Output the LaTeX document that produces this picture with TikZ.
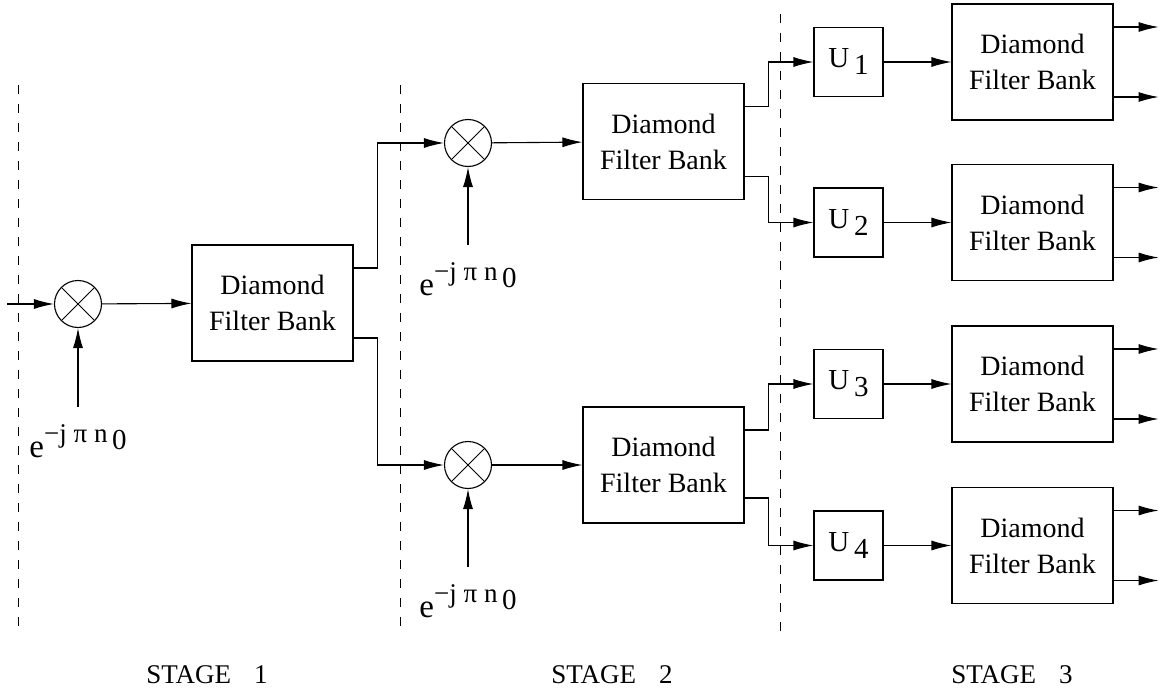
\documentclass[tikz,border=0pt]{standalone}
\usepackage{fontspec}
\setmainfont{Liberation Serif}
\usetikzlibrary{positioning,arrows.meta}

\tikzset{
  fbank/.style={draw, line width=1.1pt, minimum width=161pt, minimum height=116pt,
    inner sep=0pt, align=center, font=\fontsize{28}{36}\selectfont},
  ubox/.style={draw, line width=1.1pt, minimum size=69pt, inner sep=0pt,
    font=\fontsize{29}{32}\selectfont},
  mixer/.style={circle, draw, line width=1.1pt, minimum size=47pt, inner sep=0pt,
    path picture={\draw[line width=0.9pt]
      (path picture bounding box.north west) -- (path picture bounding box.south east)
      (path picture bounding box.north east) -- (path picture bounding box.south west);}},
  expo/.style={inner sep=0pt, font=\fontsize{27}{30}\selectfont},
  arr/.style={-{Latex[length=20pt,width=10pt]}, line width=1.1pt},
  stageline/.style={dash pattern=on 9pt off 10pt, line width=1pt},
  stagelbl/.style={inner sep=0pt, font=\fontsize{27}{30}\selectfont}
}

\begin{document}
\begin{tikzpicture}[x=1pt, y=-1pt]
    \useasboundingbox (0,0) rectangle (1168,693);
    % Stage borders
    \coordinate (d1t) at (18,85);
    \coordinate (d1b) at (18,628);
    \coordinate (d2t) at (400,85);
    \coordinate (d2b) at (400,631);
    \coordinate (d3t) at (780,14);
    \coordinate (d3b) at (780,634);
    \draw[stageline] (d1t) -- (d1b);
    \draw[stageline] (d2t) -- (d2b);
    \draw[stageline] (d3t) -- (d3b);
    % Multipliers
    \node[mixer] (m1) at (78,304) {};
    \node[mixer] (m2) at (468,143) {};
    \node[mixer] (m3) at (468,465) {};
    % Modulation inputs
    \coordinate (s1) at (78,407);
    \coordinate (s2) at (468,245);
    \coordinate (s3) at (468,567);
    \foreach \i in {1,2,3} {
      \draw[arr] (s\i) -- (m\i);
      \node[expo, below=17pt of s\i, xshift=0pt] (e\i)
        {{\fontsize{33}{36}\selectfont e}\raisebox{15pt}{−j π n\raisebox{-7pt}{\,{\fontsize{29}{32}\selectfont 0}}}};
    }
    % Filter banks of stages 1 and 2
    \node[fbank] (b1) at (272.5,303) {Diamond\\Filter Bank};
    \node[fbank] (b2) at (663.5,141.5) {Diamond\\Filter Bank};
    \node[fbank] (b3) at (663.5,465) {Diamond\\Filter Bank};
    % Input
    \coordinate (in) at (7,304);
    \draw[arr] (in) -- (m1);
    \draw[arr] (m1) -- (b1);
    \draw[arr] ([yshift=35pt]b1.east) -- ++(24,0) |- (m2);
    \draw[arr] ([yshift=-35pt]b1.east) -- ++(24,0) |- (m3);
    \draw[arr] (m2) -- (b2);
    \draw[arr] (m3) -- (b3);
    % Stage 3
    \foreach \i/\y in {1/62,2/222.5,3/384,4/545.5} {
      \node[ubox] (u\i) at (848.5,\y) {U\raisebox{-7pt}{\,\i}};
      \node[fbank] (f\i) at (1032.5,\y) {Diamond\\Filter Bank};
      \coordinate (oa\i) at ([xshift=45pt,yshift=35pt]f\i.east);
      \coordinate (ob\i) at ([xshift=45pt,yshift=-35pt]f\i.east);
      \draw[arr] (u\i) -- (f\i);
      \draw[arr] ([yshift=35pt]f\i.east) -- (oa\i);
      \draw[arr] ([yshift=-35pt]f\i.east) -- (ob\i);
    }
    \draw[arr] ([yshift=35pt]b2.east) -- ++(24,0) |- (u1);
    \draw[arr] ([yshift=-35pt]b2.east) -- ++(24,0) |- (u2);
    \draw[arr] ([yshift=35pt]b3.east) -- ++(24,0) |- (u3);
    \draw[arr] ([yshift=-33pt]b3.east) -- ++(24,0) |- (u4);
    % Stage labels
    \node[stagelbl] (st1) at (207,675) {STAGE\hspace{0.85em}1};
    \node[stagelbl] (st2) at (612,675) {STAGE\hspace{0.85em}2};
    \node[stagelbl] (st3) at (1012,675) {STAGE\hspace{0.85em}3};
\end{tikzpicture}
\end{document}
